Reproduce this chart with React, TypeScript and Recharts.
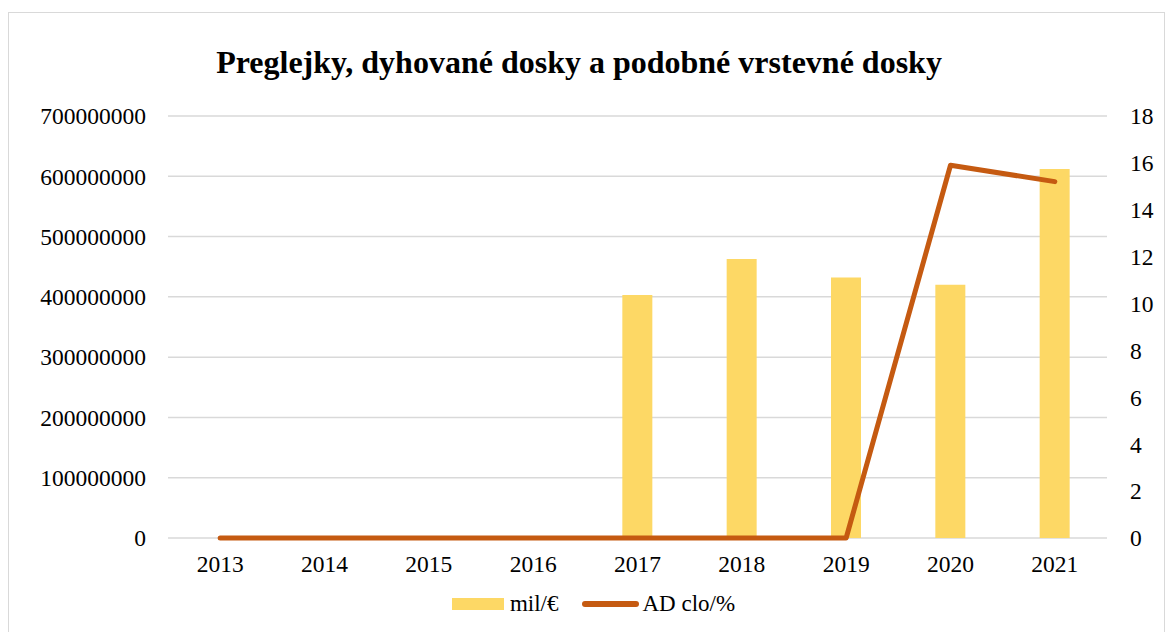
import { Bar, CartesianGrid, ComposedChart, Legend, Line, XAxis, YAxis } from "recharts"

// hodnoty odčítané z grafu
const years = ["2013", "2014", "2015", "2016", "2017", "2018", "2019", "2020", "2021"]
const milEur = [0, 0, 0, 0, 403000000, 463000000, 432000000, 420000000, 612000000]
const adClo = [0, 0, 0, 0, 0, 0, 0, 15.9, 15.2]
const leftTicks = [0, 100000000, 200000000, 300000000, 400000000, 500000000, 600000000, 700000000]
const rightTicks = [0, 2, 4, 6, 8, 10, 12, 14, 16, 18]

const data = years.map((year, i) => ({ year, mil: milEur[i], ad: adClo[i] }))

const font = "'Liberation Serif', 'Times New Roman', serif"
const tick = { fill: "#000", fontSize: 23.5, fontFamily: font }

const BAR_COLOR = "#FDD865"
const LINE_COLOR = "#C55A11"

function LegendBox() {
    return (
        <div style={{ display: "flex", justifyContent: "center", alignItems: "center", fontFamily: font, fontSize: 23, color: "#000", marginLeft: 14, height: 30 }}>
            <span style={{ display: "inline-block", width: 52, height: 12, background: BAR_COLOR, marginRight: 6 }} />
            <span style={{ marginRight: 24 }}>mil/€</span>
            <span style={{ display: "inline-block", width: 57, height: 6, borderRadius: 3, background: LINE_COLOR, marginRight: 3 }} />
            <span>AD clo/%</span>
        </div>
    )
}

export default function App() {
    return (
        <div style={{ position: "absolute", left: 8, top: 12, width: 1155, height: 630, border: "1px solid #d9d9d9", background: "#fff", overflow: "hidden" }}>
            <div style={{ position: "absolute", top: 31, left: 0, width: 1140, textAlign: "center", fontFamily: font, fontWeight: "bold", fontSize: 32, color: "#000" }}>
                Preglejky, dyhované dosky a podobné vrstevné dosky
            </div>
            <ComposedChart width={1155} height={618} data={data} margin={{ top: 103, right: 0, bottom: 10, left: 0 }} barCategoryGap="35%">
                <CartesianGrid vertical={false} stroke="#d9d9d9" strokeWidth={1.5} yAxisId="left" />
                <XAxis dataKey="year" tick={tick} tickLine={false} axisLine={false} tickMargin={11} height={53} />
                <YAxis yAxisId="left" width={159} domain={[0, 700000000]} ticks={leftTicks} tick={tick} tickLine={false} axisLine={false} tickMargin={16} interval={0} />
                <YAxis yAxisId="right" orientation="right" width={57} domain={[0, 18]} ticks={rightTicks} tick={tick} tickLine={false} axisLine={false} tickMargin={17} interval={0} />
                <Legend verticalAlign="bottom" content={<LegendBox />} wrapperStyle={{ bottom: 12 }} />
                <Bar yAxisId="left" dataKey="mil" name="mil/€" fill={BAR_COLOR} barSize={30} isAnimationActive={false} />
                <Line yAxisId="right" dataKey="ad" name="AD clo/%" stroke={LINE_COLOR} strokeWidth={5} strokeLinecap="round" strokeLinejoin="round" dot={false} activeDot={false} isAnimationActive={false} />
            </ComposedChart>
        </div>
    )
}
